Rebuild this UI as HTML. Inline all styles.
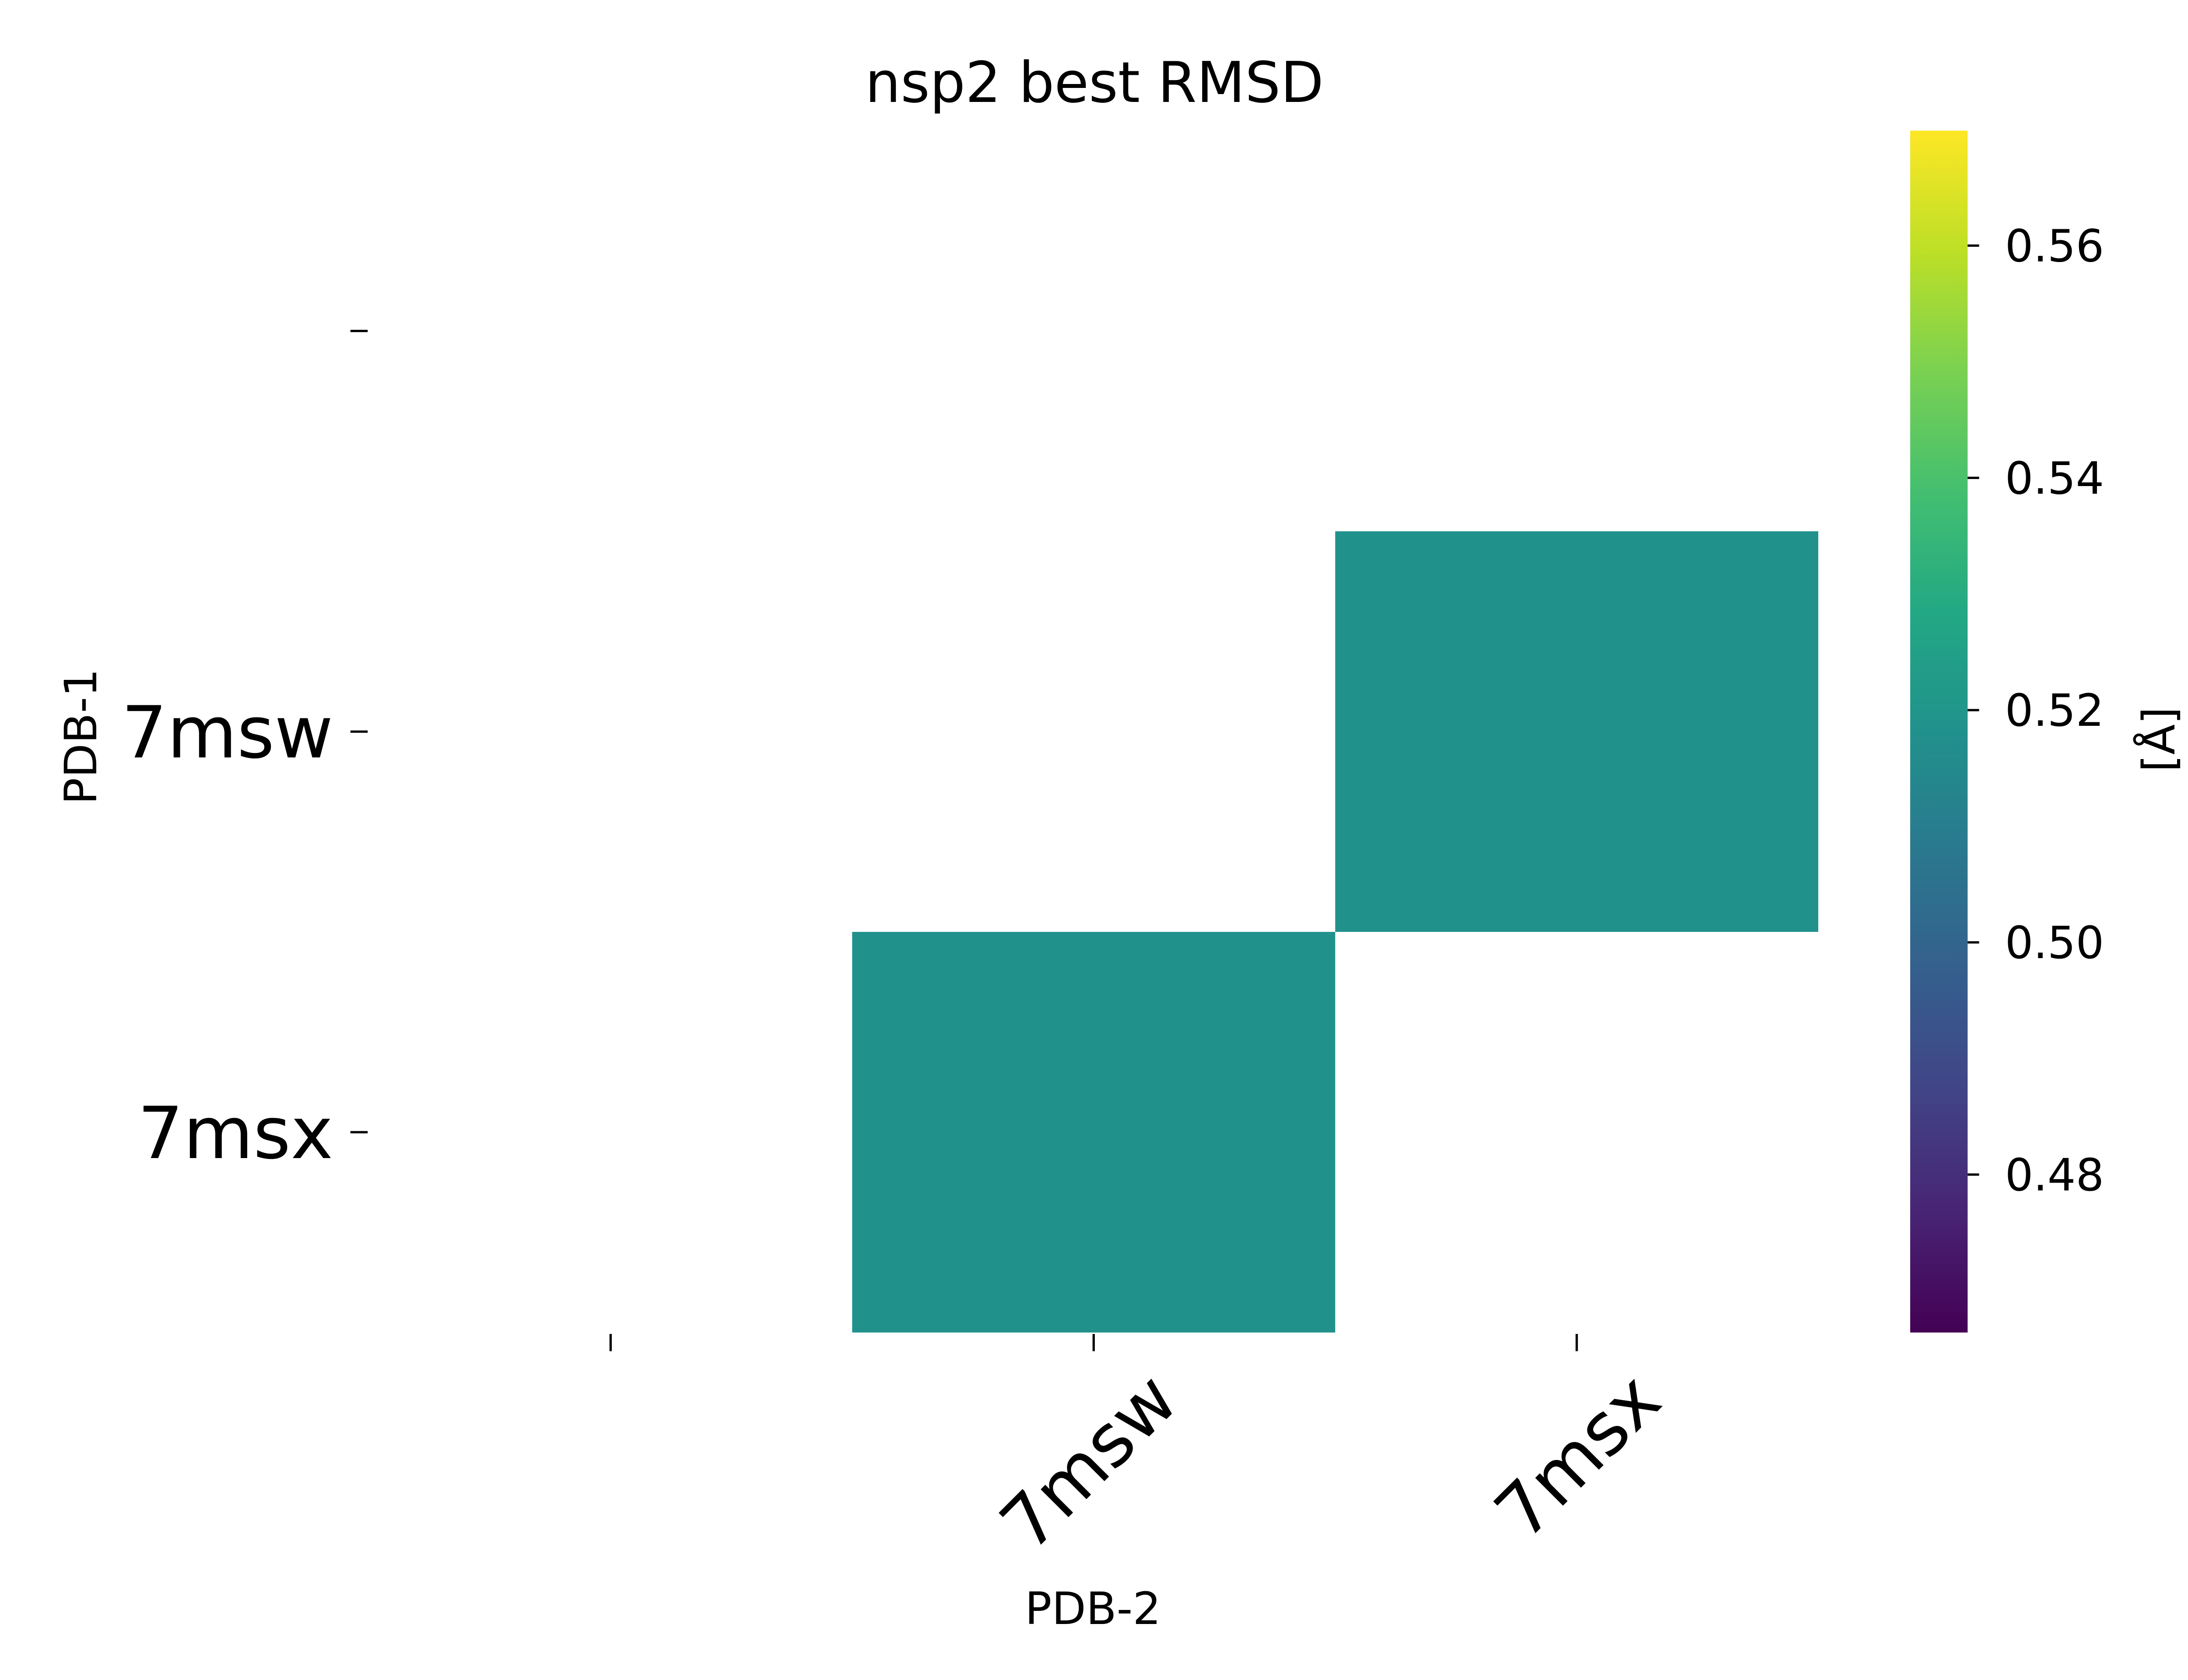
<!DOCTYPE html>
<html><head><meta charset="utf-8"><style>
html,body{margin:0;padding:0;background:#fff;}
svg{display:block;font-family:"DejaVu Sans","Liberation Sans",sans-serif;}
</style></head><body>
<svg id="chart" width="5120" height="3840" viewBox="0 0 1560 1170" xmlns="http://www.w3.org/2000/svg">
<defs>
<linearGradient id="vir" x1="0" y1="1" x2="0" y2="0">
<stop offset="0" stop-color="#440154"/><stop offset="0.1" stop-color="#482475"/><stop offset="0.2" stop-color="#414487"/><stop offset="0.3" stop-color="#355f8d"/><stop offset="0.4" stop-color="#2a788e"/><stop offset="0.5" stop-color="#21918c"/><stop offset="0.6" stop-color="#22a884"/><stop offset="0.7" stop-color="#44bf70"/><stop offset="0.8" stop-color="#7ad151"/><stop offset="0.9" stop-color="#bddf26"/><stop offset="1" stop-color="#fde725"/>
</linearGradient>
</defs>
<text x="762" y="71" font-size="39" text-anchor="middle">nsp2 best RMSD</text>
<g id="cells"></g>
<g id="axes"></g>
<rect x="1330" y="91" width="40" height="837" fill="url(#vir)"/>
<g id="cbar"></g>
<text x="761" y="1131" font-size="31" text-anchor="middle">PDB-2</text>
<text transform="translate(67,513) rotate(-90)" font-size="31" text-anchor="middle">PDB-1</text>
<text transform="translate(1514,515) rotate(-90)" font-size="31" text-anchor="middle">[Å]</text>
</svg>
<script>
const rowLabels = ["", "7msw", "7msx"];
const colLabels = ["", "7msw", "7msx"];
const values = [
  [null, null, null],
  [null, null, 0.518],
  [null, 0.518, null]
];
const cbarTicks = [0.48, 0.50, 0.52, 0.54, 0.56];
const vmin = 0.4664, vmax = 0.5699;

const NS = "http://www.w3.org/2000/svg";
const X0 = 257, X1 = 1266, Y0 = 91, Y1 = 928;
const cw = (X1 - X0) / colLabels.length, ch = (Y1 - Y0) / rowLabels.length;
const xPos = i => X0 + i * cw;
const yPos = j => Y0 + j * ch;
const cbY = v => Y1 - (v - vmin) / (vmax - vmin) * (Y1 - Y0);
const vir = ["#440154","#482475","#414487","#355f8d","#2a788e","#21918c","#22a884","#44bf70","#7ad151","#bddf26","#fde725"];
function hex(c){return [1,3,5].map(k=>parseInt(c.substr(k,2),16));}
function color(v){
  let t = Math.max(0, Math.min(1, (v - vmin) / (vmax - vmin))) * 10;
  let i = Math.min(9, Math.floor(t)), f = t - i;
  const a = hex(vir[i]), b = hex(vir[i+1]);
  return "rgb(" + a.map((x,k)=>Math.round(x+(b[k]-x)*f)).join(",") + ")";
}
function mk(tag, attrs, parent){
  const e = document.createElementNS(NS, tag);
  for (const k in attrs) e.setAttribute(k, attrs[k]);
  parent.appendChild(e); return e;
}
const cells = document.getElementById("cells");
values.forEach((row, j) => row.forEach((v, i) => {
  if (v === null) return;
  const r = mk("rect", {x: xPos(i), y: yPos(j), width: cw, height: ch, fill: color(v)}, cells);
  
  
}));
const axes = document.getElementById("axes");
rowLabels.forEach((lab, j) => {
  const y = yPos(j) + ch / 2;
  const t = mk("line", {x1: 244, x2: 256, y1: y, y2: y, stroke: "#000", "stroke-width": 1.6}, axes);
  
  
  const tx = mk("text", {x: 232, y: y + 18, "font-size": 50, "text-anchor": "end"}, axes);
  tx.textContent = lab;
  
  
});
colLabels.forEach((lab, i) => {
  const x = xPos(i) + cw / 2;
  const t = mk("line", {x1: x, x2: x, y1: 929, y2: 941, stroke: "#000", "stroke-width": 1.6}, axes);
  
  
  const tx = mk("text", {"font-size": 50, "text-anchor": "end", transform: "translate(" + (x + 61) + ",978) rotate(-45)"}, axes);
  tx.textContent = lab;
  
  
});
const cbar = document.getElementById("cbar");
cbarTicks.forEach(v => {
  const y = cbY(v);
  const t = mk("line", {x1: 1370, x2: 1378, y1: y, y2: y, stroke: "#000", "stroke-width": 1.6}, cbar);
  
  
  const tx = mk("text", {x: 1396, y: y + 11, "font-size": 31}, cbar);
  tx.textContent = v.toFixed(2);
  
  
});
</script>
</body></html>
